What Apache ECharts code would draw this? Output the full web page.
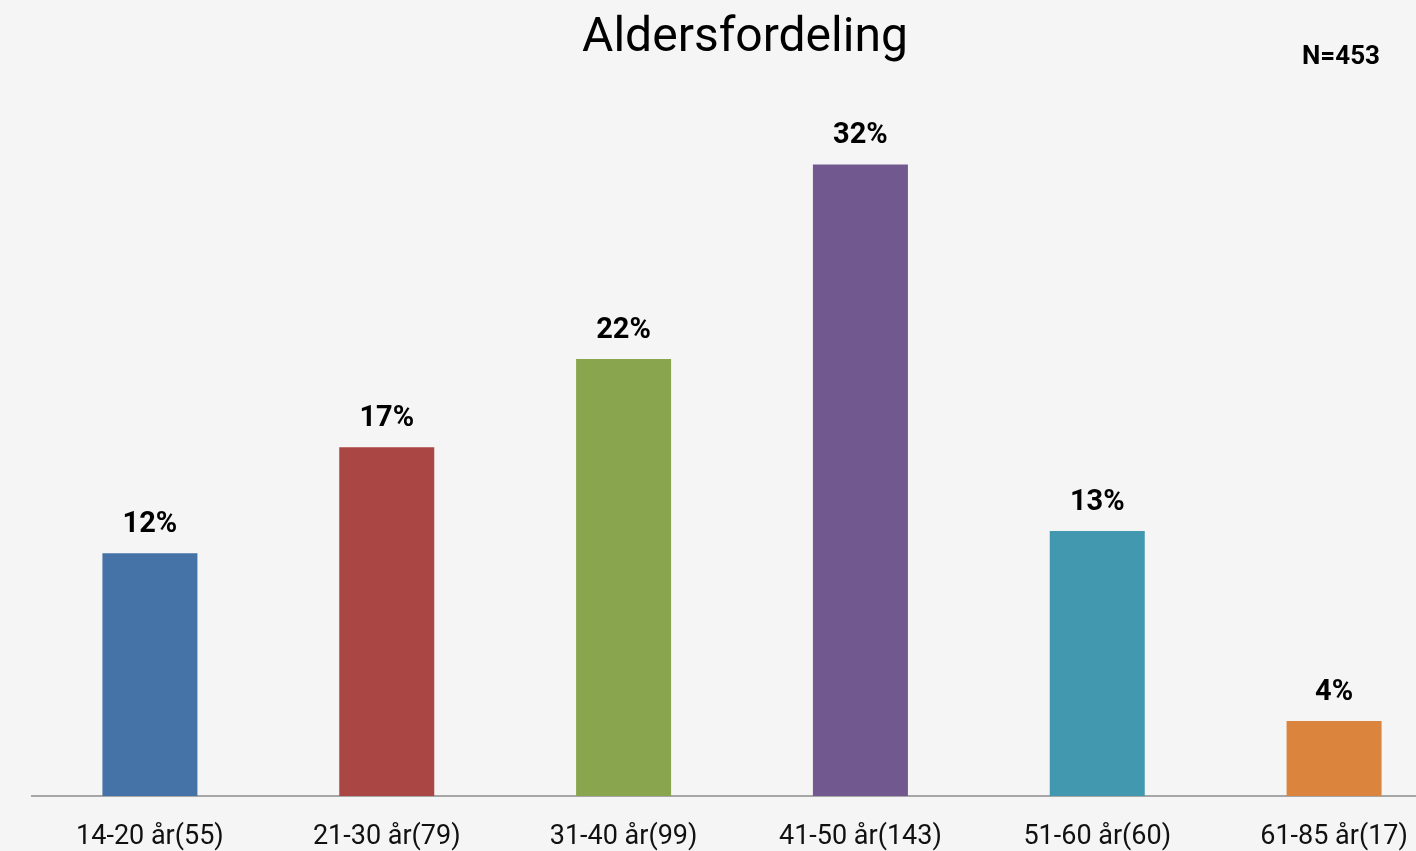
<!DOCTYPE html>
<html>
<head>
<meta charset="utf-8">
<script src="https://cdn.jsdelivr.net/npm/echarts@6/dist/echarts.min.js"></script>
<style>
  html, body { margin: 0; padding: 0; background: #f5f5f5; }
  #chart { width: 1416px; height: 851px; }
</style>
</head>
<body>
<div id="chart"></div>
<script>
const categories = ["14-20 år(55)", "21-30 år(79)", "31-40 år(99)", "41-50 år(143)", "51-60 år(60)", "61-85 år(17)"];
// percent of N=453
const percents = [12.14, 17.44, 21.85, 31.57, 13.25, 3.75];
const colors = ["#4572A7", "#AA4643", "#89A54E", "#71588F", "#4198AF", "#DB843D"];

const fontFam = "Roboto, 'DejaVu Sans', sans-serif";

const myChart = echarts.init(document.getElementById("chart"));
myChart.setOption({
  backgroundColor: "#f5f5f5",
  animation: false,
  title: [
    {
      text: "Aldersfordeling",
      left: 740,
      top: 10,
      textAlign: "center",
      textStyle: { fontFamily: fontFam, fontSize: 48, fontWeight: "normal", color: "#000" },
    },
    {
      text: "N=453",
      left: 1336,
      top: 39,
      textAlign: "center",
      textStyle: { fontFamily: fontFam, fontSize: 26, fontWeight: "bold", color: "#000" },
    },
  ],
  // grid runs past the right edge, last category is cut like in the original
  grid: {
    left: 31.5,
    width: 1421,
    top: 96,
    height: 700,
    containLabel: false,
    outerBoundsMode: "none",
  },
  xAxis: {
    type: "category",
    data: categories,
    axisTick: { show: false },
    axisLine: { lineStyle: { color: "#8c8c8c", width: 1.5 } },
    axisLabel: {
      color: "#111",
      fontFamily: fontFam,
      fontSize: 27,
      margin: 28,
      interval: 0,
    },
  },
  yAxis: {
    type: "value",
    min: 0,
    max: 35,
    show: false,
    splitLine: { show: false },
  },
  series: [
    {
      type: "bar",
      barWidth: 95,
      data: percents.map((v, i) => ({ value: v, itemStyle: { color: colors[i] } })),
      label: {
        show: true,
        position: "top",
        distance: 14,
        formatter: (p) => Math.round(p.value) + "%",
        fontFamily: fontFam,
        fontSize: 29,
        fontWeight: "bold",
        color: "#000",
      },
    },
  ],
});
</script>
</body>
</html>
